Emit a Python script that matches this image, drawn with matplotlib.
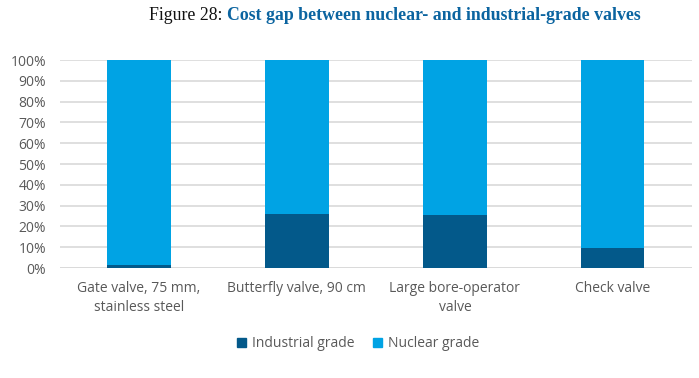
import matplotlib
matplotlib.use("Agg")
from matplotlib import pyplot as plt
from matplotlib.patches import Patch
import numpy as np

plt.rcParams['font.family'] = ['Open Sans', 'DejaVu Sans']

categories = ["Gate valve, 75 mm,\nstainless steel",
              "Butterfly valve, 90 cm",
              "Large bore-operator\nvalve",
              "Check valve"]
industrial = [1.5, 26.0, 25.5, 9.8]
nuclear = [100 - v for v in industrial]
yticks = np.arange(0, 101, 10)

dark = "#03598A"
light = "#00A3E4"
grey = "#595959"

fig = plt.figure(figsize=(6.99, 3.78), dpi=100)
ax = fig.add_axes([0.0858, 0.291, 0.904, 0.550])

x = np.arange(len(categories))
ax.bar(x, industrial, width=0.4, color=dark, zorder=3)
ax.bar(x, nuclear, width=0.4, bottom=industrial, color=light, zorder=3)

ax.set_xlim(-0.5, len(categories) - 0.5)
ax.set_ylim(0, 100)
ax.set_yticks(yticks)
ax.set_yticklabels([f"{v}%" for v in yticks], color=grey, fontsize=10)
ax.set_xticks(x)
ax.set_xticklabels(categories, color=grey, fontsize=10, linespacing=1.4)
ax.tick_params(axis='both', length=0)
ax.tick_params(axis='y', pad=10)
ax.tick_params(axis='x', pad=9)
ax.grid(axis='y', color="#d9d9d9", linewidth=1.2, zorder=0)
for s in ax.spines.values():
    s.set_visible(False)
ax.axhline(0, color="#d9d9d9", linewidth=1.2, zorder=2)

handles = [Patch(color=dark, label="Industrial grade"),
           Patch(color=light, label="Nuclear grade")]
fig.legend(handles=handles, loc='center', bbox_to_anchor=(0.512, 0.09),
           ncol=2, frameon=False, handlelength=0.7, handleheight=0.7,
           handletextpad=0.4, columnspacing=1.3,
           labelcolor=grey, fontsize=10)

# title in two parts
fig.canvas.draw()
r = fig.canvas.get_renderer()
t1 = fig.text(0, 0, "Figure 28: ", fontsize=12.8, family="Liberation Serif",
              color="#111111", va="center")
t2 = fig.text(0, 0, "Cost gap between nuclear- and industrial-grade valves",
              fontsize=12.8, family="Liberation Serif", color="#0B64A0",
              fontweight="bold", va="center")
w1 = t1.get_window_extent(r).width
w2 = t2.get_window_extent(r).width
start = (395 - (w1 + w2) / 2) / 699
t1.set_position((start, 1 - 16 / 378))
t2.set_position((start + w1 / 699, 1 - 16 / 378))

plt.savefig("out.png", dpi=100)
